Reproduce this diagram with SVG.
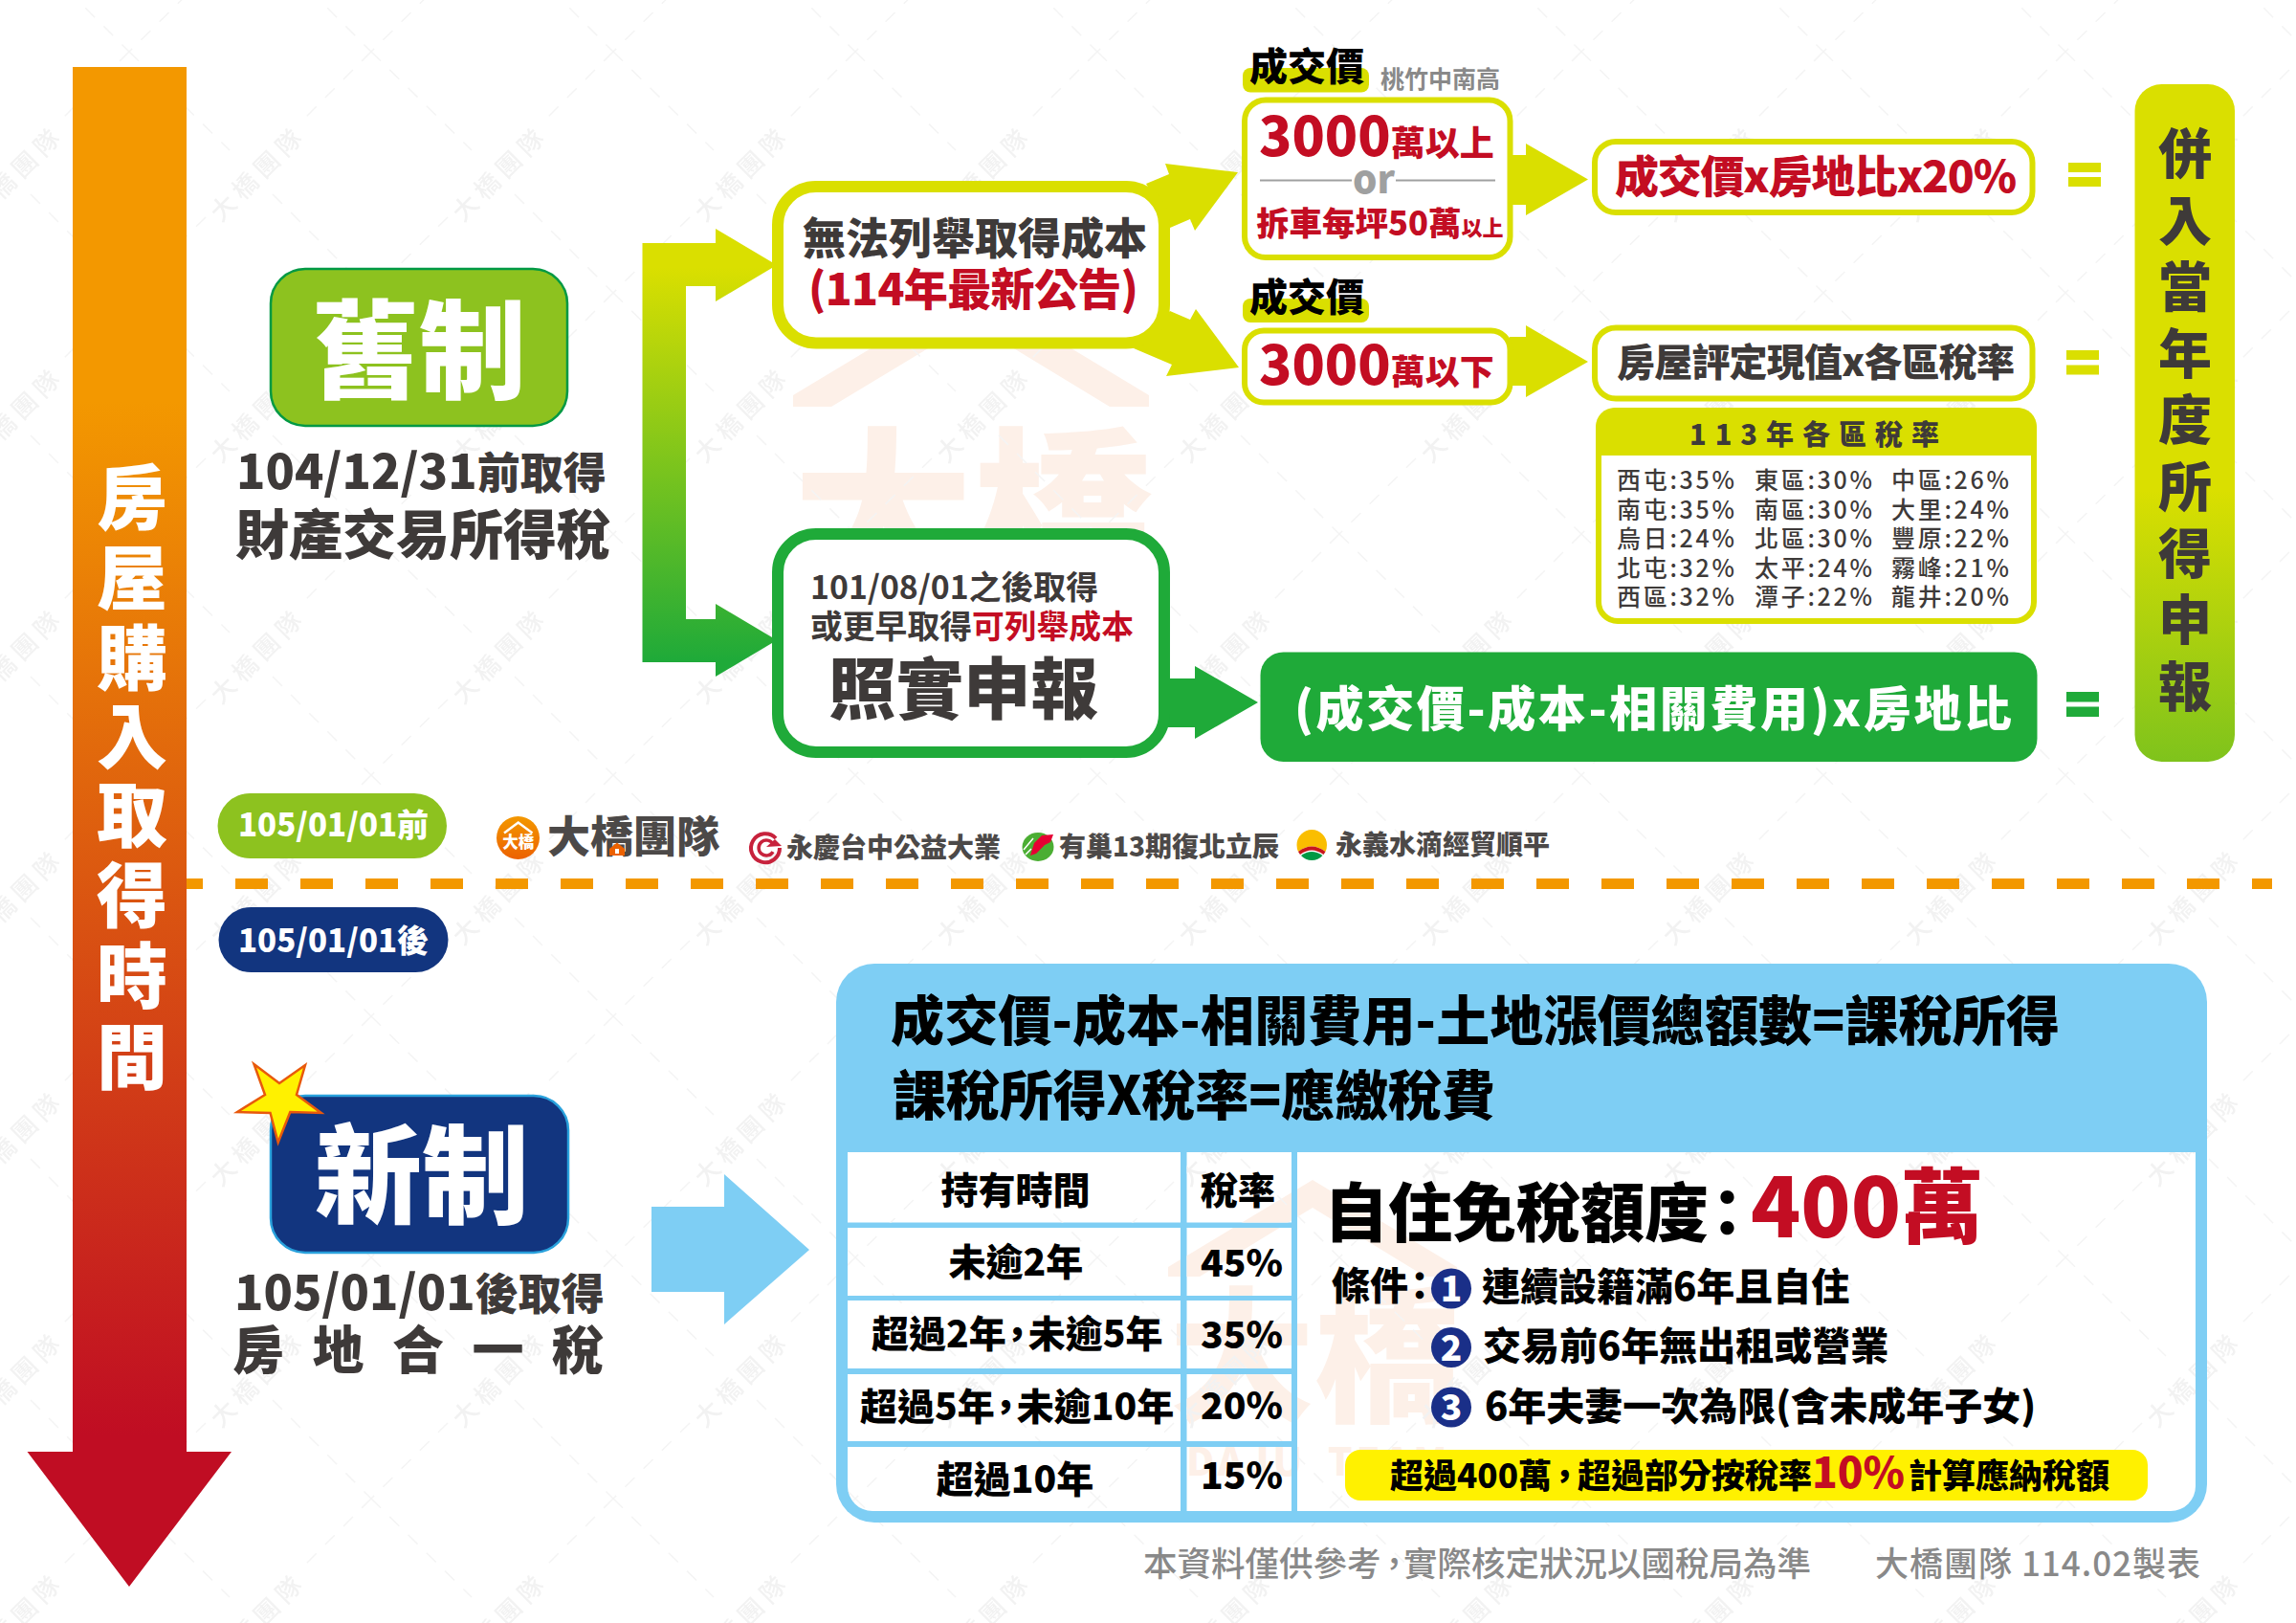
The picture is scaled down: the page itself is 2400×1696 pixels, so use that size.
<svg xmlns="http://www.w3.org/2000/svg" width="2400" height="1696" viewBox="0 0 2400 1696">
<style>
text{font-family:"Noto Sans CJK TC","Noto Sans CJK JP",sans-serif;font-weight:900;fill:#3e3a39}
.n{font-weight:700}.m{font-weight:500}.w{fill:#fff}.r{fill:#c30d23}.k{fill:#000}.g{fill:#898989}.d{fill:#4c4948}
.c{text-anchor:middle}
.wm{fill:#f2f2f2;font-size:26px;font-weight:500;letter-spacing:6px}
.pe{fill:#fdf0e8;font-weight:900}
</style>
<defs>
<linearGradient id="gt" gradientUnits="userSpaceOnUse" x1="0" y1="70" x2="0" y2="1658"><stop offset=".22" stop-color="#f39800"/><stop offset=".9" stop-color="#c00d23"/></linearGradient>
<linearGradient id="gb" gradientUnits="userSpaceOnUse" x1="0" y1="280" x2="0" y2="690"><stop offset="0" stop-color="#dadf00"/><stop offset="1" stop-color="#1faa39"/></linearGradient>
<linearGradient id="gp" gradientUnits="userSpaceOnUse" x1="0" y1="88" x2="0" y2="796"><stop offset=".6" stop-color="#dadf00"/><stop offset="1" stop-color="#7fc31c"/></linearGradient>
<linearGradient id="go" x1="0" y1="0" x2="0" y2="1"><stop offset="0" stop-color="#f39800"/><stop offset="1" stop-color="#ec6100"/></linearGradient>
<pattern id="wp" x="135" y="54" width="253" height="252" patternUnits="userSpaceOnUse">
<path d="M253 0L178 75M80 173L0 252M0 0L105 103M150 149L253 252" stroke="#f4f4f4" stroke-width="1.500" stroke-dasharray="14 13" fill="none"/>
<text class="wm" transform="translate(96 179) rotate(-45)">大橋團隊</text>
</pattern>
<clipPath id="cells">
<rect x="886" y="1204" width="348" height="73.500"/><rect x="1240.500" y="1204" width="109.500" height="73.500"/>
<rect x="886" y="1283" width="348" height="71"/><rect x="1240.500" y="1283" width="109.500" height="71"/>
<rect x="886" y="1359" width="348" height="71"/><rect x="1240.500" y="1359" width="109.500" height="71"/>
<rect x="886" y="1436" width="348" height="70"/><rect x="1240.500" y="1436" width="109.500" height="70"/>
<path d="M886 1512H1234V1579H912A26 26 0 0 1 886 1553Z"/><rect x="1240.500" y="1512" width="109.500" height="67"/>
<path d="M1356 1204H2295V1553A26 26 0 0 1 2269 1579H1356Z"/>
</clipPath>
</defs>
<rect width="2400" height="1696" fill="#fff"/>
<g id="bg-mark">
<path d="M829 413L1015 301L1201 413V425H1160L1015 337L869 425H829Z" fill="#fdf0e8"/>
<text class="pe" x="829" y="606" style="font-size:188px">大橋</text>
</g>
<rect width="2400" height="1696" fill="url(#wp)"/>
<g id="timeline">
<path d="M76 70H195V1517H242L135 1658L28.500 1517H76Z" fill="url(#gt)"/>
<g style="font-size:74px">
<text class="w c" x="138" y="547">房</text><text class="w c" x="138" y="631">屋</text><text class="w c" x="138" y="715">購</text><text class="w c" x="138" y="797">入</text><text class="w c" x="138" y="879">取</text><text class="w c" x="138" y="963">得</text><text class="w c" x="138" y="1047">時</text><text class="w c" x="138" y="1132">間</text>
</g>
</g>
<g id="connectors">
<path d="M671.500 254H748V239L812 277L748 315V299H717V647H748V631L812 669L748 707V692H671.500Z" fill="url(#gb)"/>
<g fill="#dadf00">
<path d="M1198 192L1222 182L1218 171L1294 180L1249 241L1244 229L1223 238Z"/>
<path d="M1223 325L1244 334L1250 323L1295 384L1219 393L1225 381L1185 364Z"/>
<path d="M1578 162H1595V150L1660 187.500L1595 225V214H1578Z"/>
<path d="M1578 352H1595V340L1660 378L1595 415V403H1578Z"/>
</g>
<path d="M1220 709H1249V696L1315 734L1249 772V760H1220Z" fill="#1faa39"/>
<path d="M681 1261H757V1227L846 1306L757 1384V1350H681Z" fill="#7ecef4"/>
</g>
<g id="old-system">
<rect x="283" y="281" width="310" height="164" rx="36" fill="#8dc21f" stroke="#009944" stroke-width="2.500"/>
<text class="w c" x="438" y="408" style="font-size:112px">舊制</text>
<text x="247" y="511" style="font-size:50px">104/12/31<tspan style="font-size:45px">前取得</tspan></text>
<text x="246" y="579" style="font-size:56px">財產交易所得稅</text>
</g>
<g id="no-cost">
<rect x="813" y="195" width="404" height="163.500" rx="40" fill="#fff" stroke="#dadf00" stroke-width="12"/>
<text x="839" y="266" style="font-size:45px">無法列舉取得成本</text>
<text class="r" x="845" y="319" textLength="345" style="font-size:46px">(114年最新公告)</text>
</g>
<g id="actual-cost">
<rect x="813" y="558" width="404" height="228" rx="40" fill="#fff" stroke="#1faa39" stroke-width="12"/>
<text class="n" x="847" y="626" style="font-size:33.800px">101/08/01之後取得</text>
<text class="n" x="847" y="667" style="font-size:33.800px">或更早取得<tspan class="r">可列舉成本</tspan></text>
<text x="866" y="746" style="font-size:70.500px">照實申報</text>
</g>
<g id="tag1">
<rect x="1299" y="71" width="132" height="25.500" rx="8" fill="#dadf00"/>
<text class="k" x="1306" y="84" style="font-size:40px">成交價</text>
<text class="g n" x="1443" y="92" style="font-size:25px">桃竹中南高</text>
</g>
<g id="over-3000">
<rect x="1301" y="104.500" width="277.500" height="164.500" rx="22" fill="#fff" stroke="#dadf00" stroke-width="6"/>
<text class="r" x="1316" y="163" style="font-size:56.500px">3000<tspan style="font-size:36px">萬以上</tspan></text>
<path d="M1317 188.500H1413M1459 188.500H1563" stroke="#9fa0a0" stroke-width="2"/>
<text class="c" x="1436" y="202" style="font-size:40px;fill:#9fa0a0">or</text>
<text class="r" x="1313" y="246" style="font-size:34.500px">拆車每坪50萬<tspan style="font-size:22px">以上</tspan></text>
</g>
<g id="tag2">
<rect x="1299" y="312" width="132" height="25" rx="8" fill="#dadf00"/>
<text class="k" x="1306" y="325" style="font-size:40px">成交價</text>
</g>
<g id="under-3000">
<rect x="1301" y="345.500" width="277.500" height="75" rx="20" fill="#fff" stroke="#dadf00" stroke-width="6"/>
<text class="r" x="1316" y="402" style="font-size:56.500px">3000<tspan style="font-size:36px">萬以下</tspan></text>
</g>
<g id="f1">
<rect x="1667" y="148" width="457.500" height="74" rx="22" fill="#fff" stroke="#dadf00" stroke-width="6"/>
<text class="r" x="1688" y="201" style="font-size:46px" textLength="420">成交價x房地比x20%</text>
</g>
<g id="f2">
<rect x="1667" y="342.500" width="457.500" height="74" rx="22" fill="#fff" stroke="#dadf00" stroke-width="6"/>
<text x="1690" y="393" style="font-size:40px" textLength="416">房屋評定現值x各區稅率</text>
</g>
<g id="rates">
<rect x="1671" y="429" width="455" height="220" rx="20" fill="#fff" stroke="#dadf00" stroke-width="6"/>
<path d="M1688 426H2109A20 20 0 0 1 2129 446V476H1668V446A20 20 0 0 1 1688 426Z" fill="#dadf00"/>
<text x="1766" y="465" style="font-size:29px;letter-spacing:9px">113年各區稅率</text>
<g style="font-size:25px;letter-spacing:2.700px">
<text class="m" x="1690" y="511">西屯:35%</text><text class="m" x="1834" y="511">東區:30%</text><text class="m" x="1977" y="511">中區:26%</text>
<text class="m" x="1690" y="541.500">南屯:35%</text><text class="m" x="1834" y="541.500">南區:30%</text><text class="m" x="1977" y="541.500">大里:24%</text>
<text class="m" x="1690" y="572">烏日:24%</text><text class="m" x="1834" y="572">北區:30%</text><text class="m" x="1977" y="572">豐原:22%</text>
<text class="m" x="1690" y="602.500">北屯:32%</text><text class="m" x="1834" y="602.500">太平:24%</text><text class="m" x="1977" y="602.500">霧峰:21%</text>
<text class="m" x="1690" y="633">西區:32%</text><text class="m" x="1834" y="633">潭子:22%</text><text class="m" x="1977" y="633">龍井:20%</text>
</g>
</g>
<g id="f3">
<rect x="1317.500" y="681.500" width="812" height="114.500" rx="24" fill="#1faa39"/>
<text class="w" x="1353" y="759" style="font-size:50px" textLength="750">(成交價-成本-相關費用)x房地比</text>
</g>
<g id="eq">
<path d="M2162 170H2196V180H2162ZM2162 185H2196V195H2162Z" fill="#dadf00"/>
<path d="M2160 366H2194V376H2160ZM2160 381.500H2194V391.500H2160Z" fill="#dadf00"/>
<path d="M2160 723H2194V733.500H2160ZM2160 738.500H2194V749H2160Z" fill="#1faa39"/>
</g>
<g id="income">
<rect x="2231.500" y="88" width="104.500" height="708" rx="28" fill="url(#gp)"/>
<g style="font-size:56px">
<text class="c" x="2284" y="181">併</text><text class="c" x="2284" y="251">入</text><text class="c" x="2284" y="320">當</text><text class="c" x="2284" y="390">年</text><text class="c" x="2284" y="459">度</text><text class="c" x="2284" y="529">所</text><text class="c" x="2284" y="599">得</text><text class="c" x="2284" y="668">申</text><text class="c" x="2284" y="738">報</text>
</g>
</g>
<g id="pill-before">
<rect x="227.500" y="829" width="239.500" height="68" rx="34" fill="#8dc21f"/>
<text class="w" x="249" y="874" style="font-size:33px">105/01/01前</text>
</g>
<g id="divider"><path d="M195 923.500H2375" stroke="#f39800" stroke-width="11" stroke-dasharray="34 34" stroke-dashoffset="17" fill="none"/></g>
<g id="pill-after">
<rect x="228.500" y="948" width="240" height="68" rx="34" fill="#12357f"/>
<text class="w" x="249" y="994.500" style="font-size:33px">105/01/01後</text>
</g>
<g id="logos">
<circle cx="541.500" cy="875.500" r="22.500" fill="url(#go)"/>
<path d="M527 870.500L541.700 859.500L556.500 870.500" fill="none" stroke="#fff" stroke-width="2.500"/>
<text class="w c" x="541.700" y="886" style="font-size:16.500px">大橋</text>
<text class="d" x="572" y="891" style="font-size:45px">大橋團隊</text>
<path d="M637 887L645 880.500L653 887V894H637Z" fill="#ec6100"/><rect x="643" y="887" width="4" height="5" fill="#fff"/>
<path d="M811 876A15 15 0 1 0 815 886" fill="none" stroke="#c7223c" stroke-width="4"/>
<path d="M808 882A8 8 0 1 0 808 890" fill="none" stroke="#c7223c" stroke-width="3.500"/>
<path d="M801 885L817 884L810 877Z" fill="#c7223c"/>
<text class="d" x="822" y="896" style="font-size:28px">永慶台中公益大業</text>
<ellipse cx="1085" cy="885" rx="16.500" ry="15" fill="#4bae33"/>
<path d="M1101 872L1089 873L1081 881L1077 894L1083 892L1092 883L1098 880Z" fill="#e60033"/>
<path d="M1070 888L1080 876M1072 893L1078 887" stroke="#fff" stroke-width="1.500" fill="none"/>
<text class="d" x="1107" y="895" style="font-size:28px">有巢13期復北立辰</text>
<path d="M1355.500 883A15.750 16 0 0 1 1387 883Q1387 887 1385.500 890Q1371 879 1357 890Q1355.500 887 1355.500 883Z" fill="#fabe00"/>
<path d="M1357 890Q1371 879 1385.500 890L1383.500 893Q1371 884 1359 893Z" fill="#c8161d"/>
<path d="M1360 894Q1371 886 1382.500 894A15 15 0 0 1 1360 894Z" fill="#009944"/>
<text class="d" x="1396" y="893" style="font-size:28px">永義水滴經貿順平</text>
</g>
<g id="new-system">
<rect x="283" y="1145" width="311" height="164" rx="36" fill="#12357f" stroke="#29a1dc" stroke-width="2.500"/>
<polygon points="265.500,1112 292,1132 319,1113 310,1144 335.700,1163 303.300,1162 290.700,1193.800 282.500,1163 248,1162 277,1144" fill="#fff100" stroke="#e8590c" stroke-width="2.500"/>
<text class="w c" x="441" y="1270" style="font-size:112px">新制</text>
<text x="245" y="1369" style="font-size:50px">105/01/01<tspan style="font-size:45px">後取得</tspan></text>
<text x="243" y="1431" style="font-size:54px;letter-spacing:29.500px">房地合一稅</text>
</g>
<g id="panel">
<rect x="874" y="1007" width="1433" height="584" rx="40" fill="#7ecef4"/>
<text class="k" x="931" y="1087" style="font-size:56px" textLength="1222">成交價-成本-相關費用-土地漲價總額數=課稅所得</text>
<text class="k" x="933" y="1165" style="font-size:56px" textLength="630">課稅所得X稅率=應繳稅費</text>
<rect x="874" y="1204" width="1433" height="375" fill="#fff" clip-path="url(#cells)"/>
</g>
<g id="bg-mark2" clip-path="url(#cells)">
<path d="M1221 1324L1372 1233L1523 1324V1334H1490L1372 1262L1254 1334H1221Z" fill="#fdf0e8"/>
<text class="pe" x="1222" y="1474" style="font-size:152px">大橋</text>
<text class="pe" x="1240" y="1542" style="font-size:40px;letter-spacing:4px">DAJU</text>
<text class="pe" x="1388" y="1542" style="font-size:40px;letter-spacing:4px">TEAM</text>
<rect x="874" y="1204" width="1433" height="375" fill="url(#wp)"/>
</g>
<g id="holding" style="font-size:39px">
<text class="k c" x="1061.500" y="1258">持有時間</text><text class="k" x="1255" y="1258">稅率</text>
<text class="k c" x="1062" y="1333">未逾2年</text><text class="k" x="1255" y="1334">45%</text>
<text class="k" x="911" y="1408">超過2年<tspan dx="-8">，</tspan><tspan dx="-8">未逾5年</tspan></text><text class="k" x="1255" y="1409">35%</text>
<text class="k" x="899" y="1484">超過5年<tspan dx="-8">，</tspan><tspan dx="-8">未逾10年</tspan></text><text class="k" x="1255" y="1483">20%</text>
<text class="k c" x="1061" y="1560">超過10年</text><text class="k" x="1255" y="1555.500">15%</text>
</g>
<g id="exempt">
<text class="k" x="1384" y="1292" style="font-size:67px">自住免稅額度<tspan dx="-14">：</tspan></text>
<text class="r" x="1830" y="1293" style="font-size:86px">400萬</text>
<text class="k" x="1392" y="1358" style="font-size:40px">條件<tspan dx="-8">：</tspan></text>
<circle cx="1517" cy="1346.500" r="21" fill="#1a2f88"/><text class="w c" x="1517" y="1360" style="font-size:37px">1</text>
<circle cx="1517" cy="1408" r="21" fill="#1a2f88"/><text class="w c" x="1517" y="1421.500" style="font-size:37px">2</text>
<circle cx="1517" cy="1470.500" r="21" fill="#1a2f88"/><text class="w c" x="1517" y="1484" style="font-size:37px">3</text>
<text class="k" x="1549" y="1359" style="font-size:40px">連續設籍滿6年且自住</text>
<text class="k" x="1550" y="1421" style="font-size:40px">交易前6年無出租或營業</text>
<text class="k" x="1552" y="1484" style="font-size:40px">6年夫妻一次為限(含未成年子女)</text>
<rect x="1406" y="1515" width="839" height="53" rx="16" fill="#fff100"/>
<text class="k" x="1453" y="1555" style="font-size:35px">超過400萬<tspan dx="-4">，</tspan><tspan dx="-4">超過部分按稅率</tspan><tspan class="r" style="font-size:44px">10%</tspan><tspan dx="4">計算應納稅額</tspan></text>
</g>
<g id="footer">
<text class="g m" x="1195" y="1647" style="font-size:35.500px">本資料僅供參考<tspan dx="-4">，</tspan><tspan dx="-8">實際核定狀況以國稅局為準</tspan></text>
<text class="g m" x="1960" y="1647" style="font-size:35px;letter-spacing:1px">大橋團隊 114.02製表</text>
</g>
</svg>
